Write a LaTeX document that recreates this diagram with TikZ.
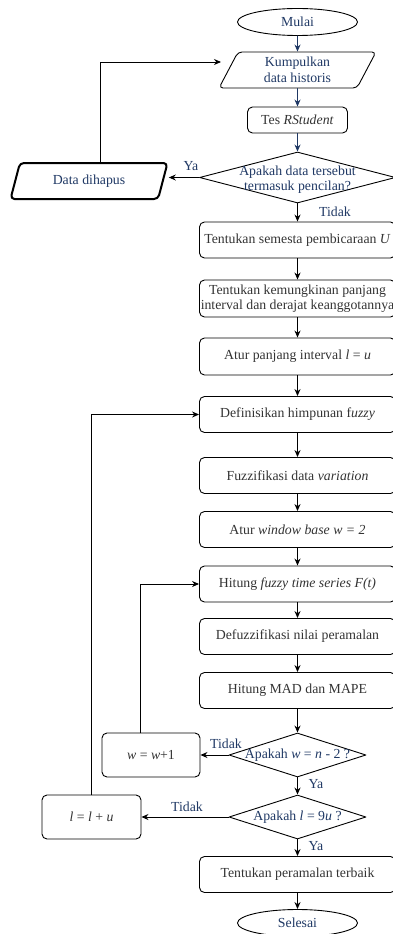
\documentclass[tikz,border=0pt]{standalone}
\usepackage{fontspec}
\setmainfont{Liberation Serif}
\usetikzlibrary{shapes.geometric}
\usetikzlibrary{arrows.meta}
\definecolor{navy}{RGB}{31,56,100}
\definecolor{teks}{RGB}{51,51,51}

\begin{document}
\begin{tikzpicture}[x=1pt,y=-1pt,line cap=round,line join=round,
  every node/.style={font=\fontsize{13.8}{15.5}\selectfont,text=teks},
  terminal/.style={ellipse,draw,line width=0.9pt,minimum width=120pt,minimum height=27pt,inner sep=0pt,text=navy},
  proses/.style={rectangle,rounded corners=5pt,draw,line width=0.9pt,minimum width=196pt,minimum height=36pt,inner sep=0pt,align=center},
  datanya/.style={trapezium,trapezium left angle=53,trapezium right angle=127,trapezium stretches body,rounded corners=4pt,draw,line width=0.9pt,minimum width=157pt,minimum height=36pt,inner sep=0pt,align=center,text=navy},
  keputusan/.style={diamond,draw,line width=0.9pt,inner sep=0pt},
  alur/.style={-{Stealth[length=7pt,width=6pt]},line width=0.9pt},
  ket/.style={text=navy}]
\useasboundingbox (0,0) rectangle (393,934);

% kolom utama
\node[terminal] (mulai) at (297.5,22) {Mulai};
\node[datanya] (kumpul) at (297.5,70) {Kumpulkan\\data historis};
\node[proses,minimum width=100pt,minimum height=26pt] (tes) at (297.5,120) {Tes \textit{RStudent}};
\node[keputusan,minimum width=196pt,minimum height=51pt,
  label={[ket,align=center,yshift=-2pt]center:Apakah data tersebut\\termasuk pencilan?}] (cek) at (297.5,177.5) {};
\node[proses] (semesta) at (297.5,240) {Tentukan semesta pembicaraan \textit{U}};
\node[proses,minimum height=37pt] (kemungkinan) at (297.5,298.5) {Tentukan kemungkinan panjang\\interval dan derajat keanggotannya};
\node[proses,minimum height=37pt] (aturl) at (297.5,356.5) {Atur panjang interval \textit{l} = \textit{u}};
\node[proses] (defin) at (297.5,414.5) {Definisikan himpunan f\textit{uzzy}};
\node[proses] (fuzzif) at (297.5,475.5) {Fuzzifikasi data \textit{variation}};
\node[proses] (aturw) at (297.5,529.5) {Atur \textit{window base w = 2}};
\node[proses] (hitung) at (297.5,584) {Hitung \textit{fuzzy time series F(t)}};
\node[proses] (defuz) at (297.5,636.5) {Defuzzifikasi nilai peramalan};
\node[proses] (mad) at (297.5,690.5) {Hitung MAD dan MAPE};
\node[keputusan,minimum width=137pt,minimum height=44pt,
  label={[ket]center:Apakah \textit{w} = \textit{n} - 2 ?}] (cekw) at (297.5,755) {};
\node[keputusan,minimum width=137pt,minimum height=44pt,
  label={[ket]center:Apakah \textit{l} = 9\textit{u} ?}] (cekl) at (297.5,817) {};
\node[proses] (terbaik) at (297.5,874.5) {Tentukan peramalan terbaik};
\node[terminal] (selesai) at (297.5,923) {Selesai};

% cabang kiri
\node[datanya,line width=2pt] (hapus) at (89,181) {Data dihapus};
\node[proses,minimum width=98pt,minimum height=44pt] (tambahw) at (151,755) {\textit{w} = \textit{w}+1};
\node[proses,minimum width=99pt,minimum height=44pt] (tambahl) at (91.5,817) {\textit{l} = \textit{l} + \textit{u}};
\coordinate (kembali) at (221,62);

% panah
\draw[alur,navy] (mulai.south) -- (kumpul.north);
\draw[alur,navy] (kumpul.south) -- (tes.north);
\draw[alur,navy] (tes.south) -- (cek.north);
\foreach \a/\b in {cek/semesta,semesta/kemungkinan,kemungkinan/aturl,aturl/defin,defin/fuzzif,
  fuzzif/aturw,aturw/hitung,hitung/defuz,defuz/mad,mad/cekw,cekw/cekl,cekl/terbaik,terbaik/selesai}
  \draw[alur] (\a.south) -- (\b.north);
\draw[alur] (cek.west) -- (cek.west -| hapus.top right corner);
\draw[alur] ([xshift=11pt]hapus.north) |- (kembali);
\draw[alur] (cekw.west) -- (tambahw.east);
\draw[alur] ([xshift=-11pt]tambahw.north) |- (hitung.west);
\draw[alur] (cekl.west) -- (tambahl.east);
\draw[alur] (tambahl.north) |- (defin.west);

% keterangan
\node[ket] (ya1) at (191,166) {Ya};
\node[ket] (tidak1) at (335,212) {Tidak};
\node[ket] (tidak2) at (226,744) {Tidak};
\node[ket] (ya2) at (316,784) {Ya};
\node[ket] (tidak3) at (187,807) {Tidak};
\node[ket] (ya3) at (316,846) {Ya};
\end{tikzpicture}
\end{document}
